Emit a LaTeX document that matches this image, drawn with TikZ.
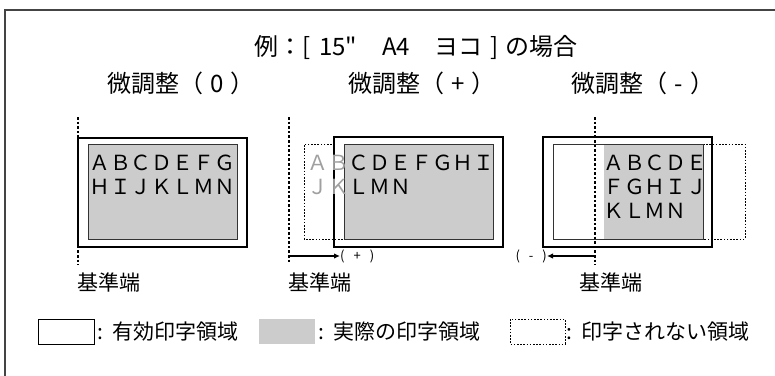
\documentclass[tikz,border=0pt]{standalone}
\usepackage{fontspec}
\setmainfont{Noto Sans CJK JP}
\newfontfamily\plainfont{Noto Sans CJK JP}
\usetikzlibrary{arrows.meta}
\definecolor{fr}{HTML}{444444}
\definecolor{pgray}{HTML}{CCCCCC}
\definecolor{ltgray}{HTML}{A0A0A0}
\definecolor{ib}{HTML}{333333}
\begin{document}
\begin{tikzpicture}[x=1pt,y=-1pt,
  thickbox/.style={line width=2.7pt, draw=black},
  innerbox/.style={line width=0.9pt, draw=ib},
  refline/.style={line width=2.6pt, dash pattern=on 2.6pt off 2pt},
  noprint/.style={line width=0.9pt, dash pattern=on 1.6pt off 1.6pt, draw=black},
  letters/.style={font=\fontsize{20.8pt}{24pt}\selectfont, inner sep=0pt, anchor=base west},
  lbl/.style={font=\fontsize{21pt}{24pt}\selectfont, inner sep=0pt},
  head/.style={font=\plainfont\fontsize{24pt}{27pt}\selectfont, inner sep=0pt},
  small/.style={font=\fontsize{13pt}{15pt}\selectfont, inner sep=0pt},
  shiftarrow/.style={line width=1.5pt, -{Latex[length=6pt,width=5.5pt]}}
]
\useasboundingbox (0,0) rectangle (775,375);
\clip (0,0) rectangle (775,375);
% frame
\draw[line width=1.5pt, draw=fr] (5,10) rectangle (790,390);

% headings
\node[head] (title) at (416,47) {例：[\hspace{8pt}15"\hspace{25pt}A4\hspace{25pt}ヨコ\hspace{8pt}]\hspace{6pt}の場合};
\node[head] (s1) at (181,83) {微調整（\hspace{7pt}0\hspace{7pt}）};
\node[head] (s2) at (422,83) {微調整（\hspace{7pt}+\hspace{7pt}）};
\node[head] (s3) at (643,83) {微調整（\hspace{7pt}-\hspace{7pt}）};

% panel 1
\draw[thickbox] (78,138) rectangle (247,247);
\draw[innerbox, fill=pgray] (88,144) rectangle (237,239);
\node[letters] (p1a) at (89,170.5) {ＡＢＣＤＥＦＧ};
\node[letters] (p1b) at (89,194.5) {ＨＩＪＫＬＭＮ};
\coordinate (r1t) at (78,117);
\coordinate (r1b) at (78,265);
\draw[refline] (r1t) -- (r1b);
\node[lbl, anchor=west] (k1) at (77,282) {基準端};

% panel 2
\coordinate (d2a) at (335,144);
\coordinate (d2b) at (304,144);
\coordinate (d2c) at (304,239);
\coordinate (d2d) at (344,239);
\draw[noprint] (d2a) -- (d2b) -- (d2c) -- (d2d);
\draw[thickbox] (334,137) rectangle (503,247);
\draw[innerbox, fill=pgray] (344,144) rectangle (493,239);
\node[letters] (p2a) at (307,170.5) {\textcolor{ltgray}{ＡＢ}ＣＤＥＦＧＨＩ};
\node[letters] (p2b) at (307,194.5) {\textcolor{ltgray}{ＪＫ}ＬＭＮ};
\coordinate (r2t) at (289,117);
\coordinate (r2b) at (289,263);
\draw[refline] (r2t) -- (r2b);
\coordinate (a2s) at (289,256);
\node[small, anchor=west] (m2) at (340,256) {(\hspace{9pt}+\hspace{9pt})};
\draw[shiftarrow] (a2s) -- (m2.west);
\node[lbl, anchor=west] (k2) at (288,282) {基準端};

% panel 3
\coordinate (d3a) at (703,144);
\coordinate (d3b) at (745,144);
\coordinate (d3c) at (745,239);
\coordinate (d3d) at (703,239);
\draw[noprint] (d3a) -- (d3b) -- (d3c) -- (d3d);
\draw[thickbox] (543,137) rectangle (712,247);
\fill[pgray] (604,144) rectangle (703,239);
\draw[innerbox] (553,144) rectangle (703,239);
\node[letters] (p3a) at (603,170.5) {ＡＢＣＤＥ};
\node[letters] (p3b) at (603,194.5) {ＦＧＨＩＪ};
\node[letters] (p3c) at (603,218.5) {ＫＬＭＮ};
\coordinate (r3t) at (595,117);
\coordinate (r3b) at (595,265);
\draw[refline] (r3t) -- (r3b);
\coordinate (a3s) at (595,256);
\node[small, anchor=east] (m3) at (547,256) {(\hspace{9pt}-\hspace{9pt})};
\draw[shiftarrow] (a3s) -- (m3.east);
\node[lbl, anchor=west] (k3) at (579,282) {基準端};

% legend
\draw[line width=0.9pt] (38,319) rectangle (94,344);
\node[lbl, anchor=west] (l1) at (97,332) {:\hspace{9pt}有効印字領域};
\fill[pgray] (259,319) rectangle (315,344);
\node[lbl, anchor=west] (l2) at (318,332) {:\hspace{9pt}実際の印字領域};
\draw[noprint] (510,319) rectangle (565,344);
\node[lbl, anchor=west] (l3) at (566,332) {:\hspace{9pt}印字されない領域};
\end{tikzpicture}
\end{document}
